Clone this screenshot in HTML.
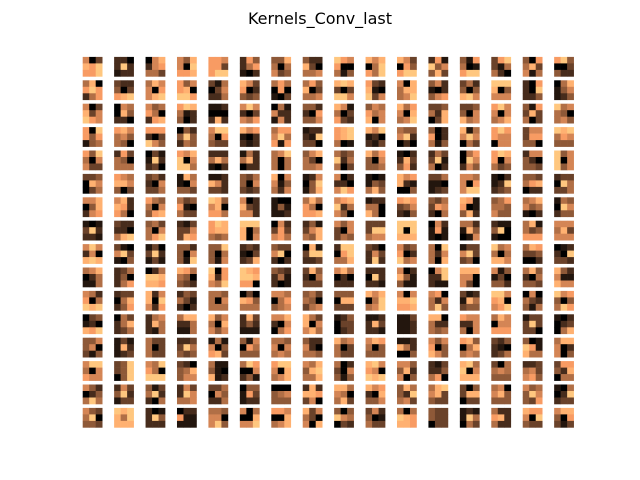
<!DOCTYPE html>
<html><head><meta charset="utf-8"><style>
html,body{margin:0;padding:0;background:#fff;}
svg{display:block;}
</style></head><body>
<svg id="chart" width="640" height="480" viewBox="0 0 640 480" xmlns="http://www.w3.org/2000/svg">
<rect width="640" height="480" fill="#fff"/>
<text x="320" y="24" text-anchor="middle" font-family="DejaVu Sans, Liberation Sans, sans-serif" font-size="16" fill="#000">Kernels_Conv_last</text>
<g id="grid"></g>
</svg>
<script>
const rows0 = ["603879779","220292122","068267553","648609778","776773799","274257102","448505634","422830556","976700514","868059759","863074799","271946483","417501799","379315520","407583615","794003422"];
const rows1 = ["580797257","322403789","586607689","746780997","315036225","863702434","575070103","574803556","898303996","732810936","608588569","462102467","352404896","999804666","207209224","058146124"];
const rows2 = ["603836976","065084220","645750278","798512402","112000282","696203657","051622162","442207446","861503732","465756806","857608569","334528038","334406856","796606568","417383503","956540564"];
const rows3 = ["709747145","786564540","777203964","042494254","699507433","867102212","577695717","122219330","789789501","869120213","544692020","402702514","815696053","797766066","366377440","989576444"];
const rows4 = ["749506633","273540555","031192230","768906995","222585102","152582022","569505505","468530556","534925503","857406445","102283472","253391502","057096264","798706534","266420443","946906946"];
const rows5 = ["334086035","765886403","342206335","185106443","112862332","435406323","806614526","126049148","602220697","101143584","867821004","335110123","665607699","102129234","443578022","233095335"];
const rows6 = ["668048267","682872750","754506478","534710533","984680775","602832662","100141112","585750778","678925640","122550850","787346214","435376205","871701482","457554644","568645102","154096244"];
const rows7 = ["101392221","322220589","453506579","213336387","798788545","999805806","062373675","241368548","646306354","333399566","999909888","062171101","552184016","211490100","581534777","666583666"];
const rows8 = ["696260898","310693104","130392131","442406419","449405416","232103238","433690202","081399223","299079558","320263292","634702956","509526508","133693340","956505886","587334002","012209332"];
const rows9 = ["568025115","235240257","025998887","875540432","907827659","987998770","432251201","384205333","685020222","222092221","602841411","069229211","888660630","614130442","584205443","842611866"];
const rows10 = ["652705989","233058247","826809627","243531202","554506555","030874555","665057456","453540356","444088333","868059569","606889778","670526594","312185344","996780679","060532415","967404597"];
const rows11 = ["034120879","053258235","256285215","588225115","846508646","283242111","668206057","853806685","124033023","112283221","113112112","880522545","766226506","586066777","133393330","102023058"];
const rows12 = ["446460314","131182123","533503533","223395434","151604783","416075444","554606565","422620554","856503533","687504444","112852004","646704864","784058565","324210235","401971855","588602604"];
const rows13 = ["699506766","349349049","659750999","320458466","511410812","597006241","799608568","658489558","502306414","896760989","664482604","213224570","895906888","305565444","223563674","377428055"];
const rows14 = ["642024595","263492133","413592205","263296556","335064225","044173122","000456444","282887360","885650583","867208446","485429563","589683433","304388033","560684444","645496437","105029233"];
const rows15 = ["643590443","989859888","201294222","022711111","554660694","605008669","776008568","836530608","404965032","362401533","505987887","433433033","121195053","522782522","877609433","688407313"];
const kernelRows = [rows0,rows1,rows2,rows3,rows4,rows5,rows6,rows7,rows8,rows9,rows10,rows11,rows12,rows13,rows14,rows15];

const X0 = 82.7, XP = 31.43, Y0 = 56.9, YP = 23.4, SZ = 19.5;
function colX(c){ return X0 + c*XP; }
function rowY(r){ return Y0 + r*YP; }
function copper(v){
  const r = Math.min(1, 1.25*v), g = 0.7812*v, b = 0.4975*v;
  return `rgb(${Math.round(r*255)},${Math.round(g*255)},${Math.round(b*255)})`;
}
const NS = "http://www.w3.org/2000/svg";
const grid = document.getElementById('grid');
kernelRows.forEach((row, r) => {
  row.forEach((k, c) => {
    const g = document.createElementNS(NS, 'g');
    
    
    const cs = SZ/3;
    for (let i = 0; i < 9; i++) {
      const v = parseInt(k[i], 10) / 9;
      const rect = document.createElementNS(NS, 'rect');
      rect.setAttribute('x', (colX(c) + (i%3)*cs).toFixed(2));
      rect.setAttribute('y', (rowY(r) + Math.floor(i/3)*cs).toFixed(2));
      rect.setAttribute('width', (cs+0.3).toFixed(2));
      rect.setAttribute('height', (cs+0.3).toFixed(2));
      rect.setAttribute('fill', copper(v));
      
      
      g.appendChild(rect);
    }
    grid.appendChild(g);
  });
});
</script>
</body></html>
